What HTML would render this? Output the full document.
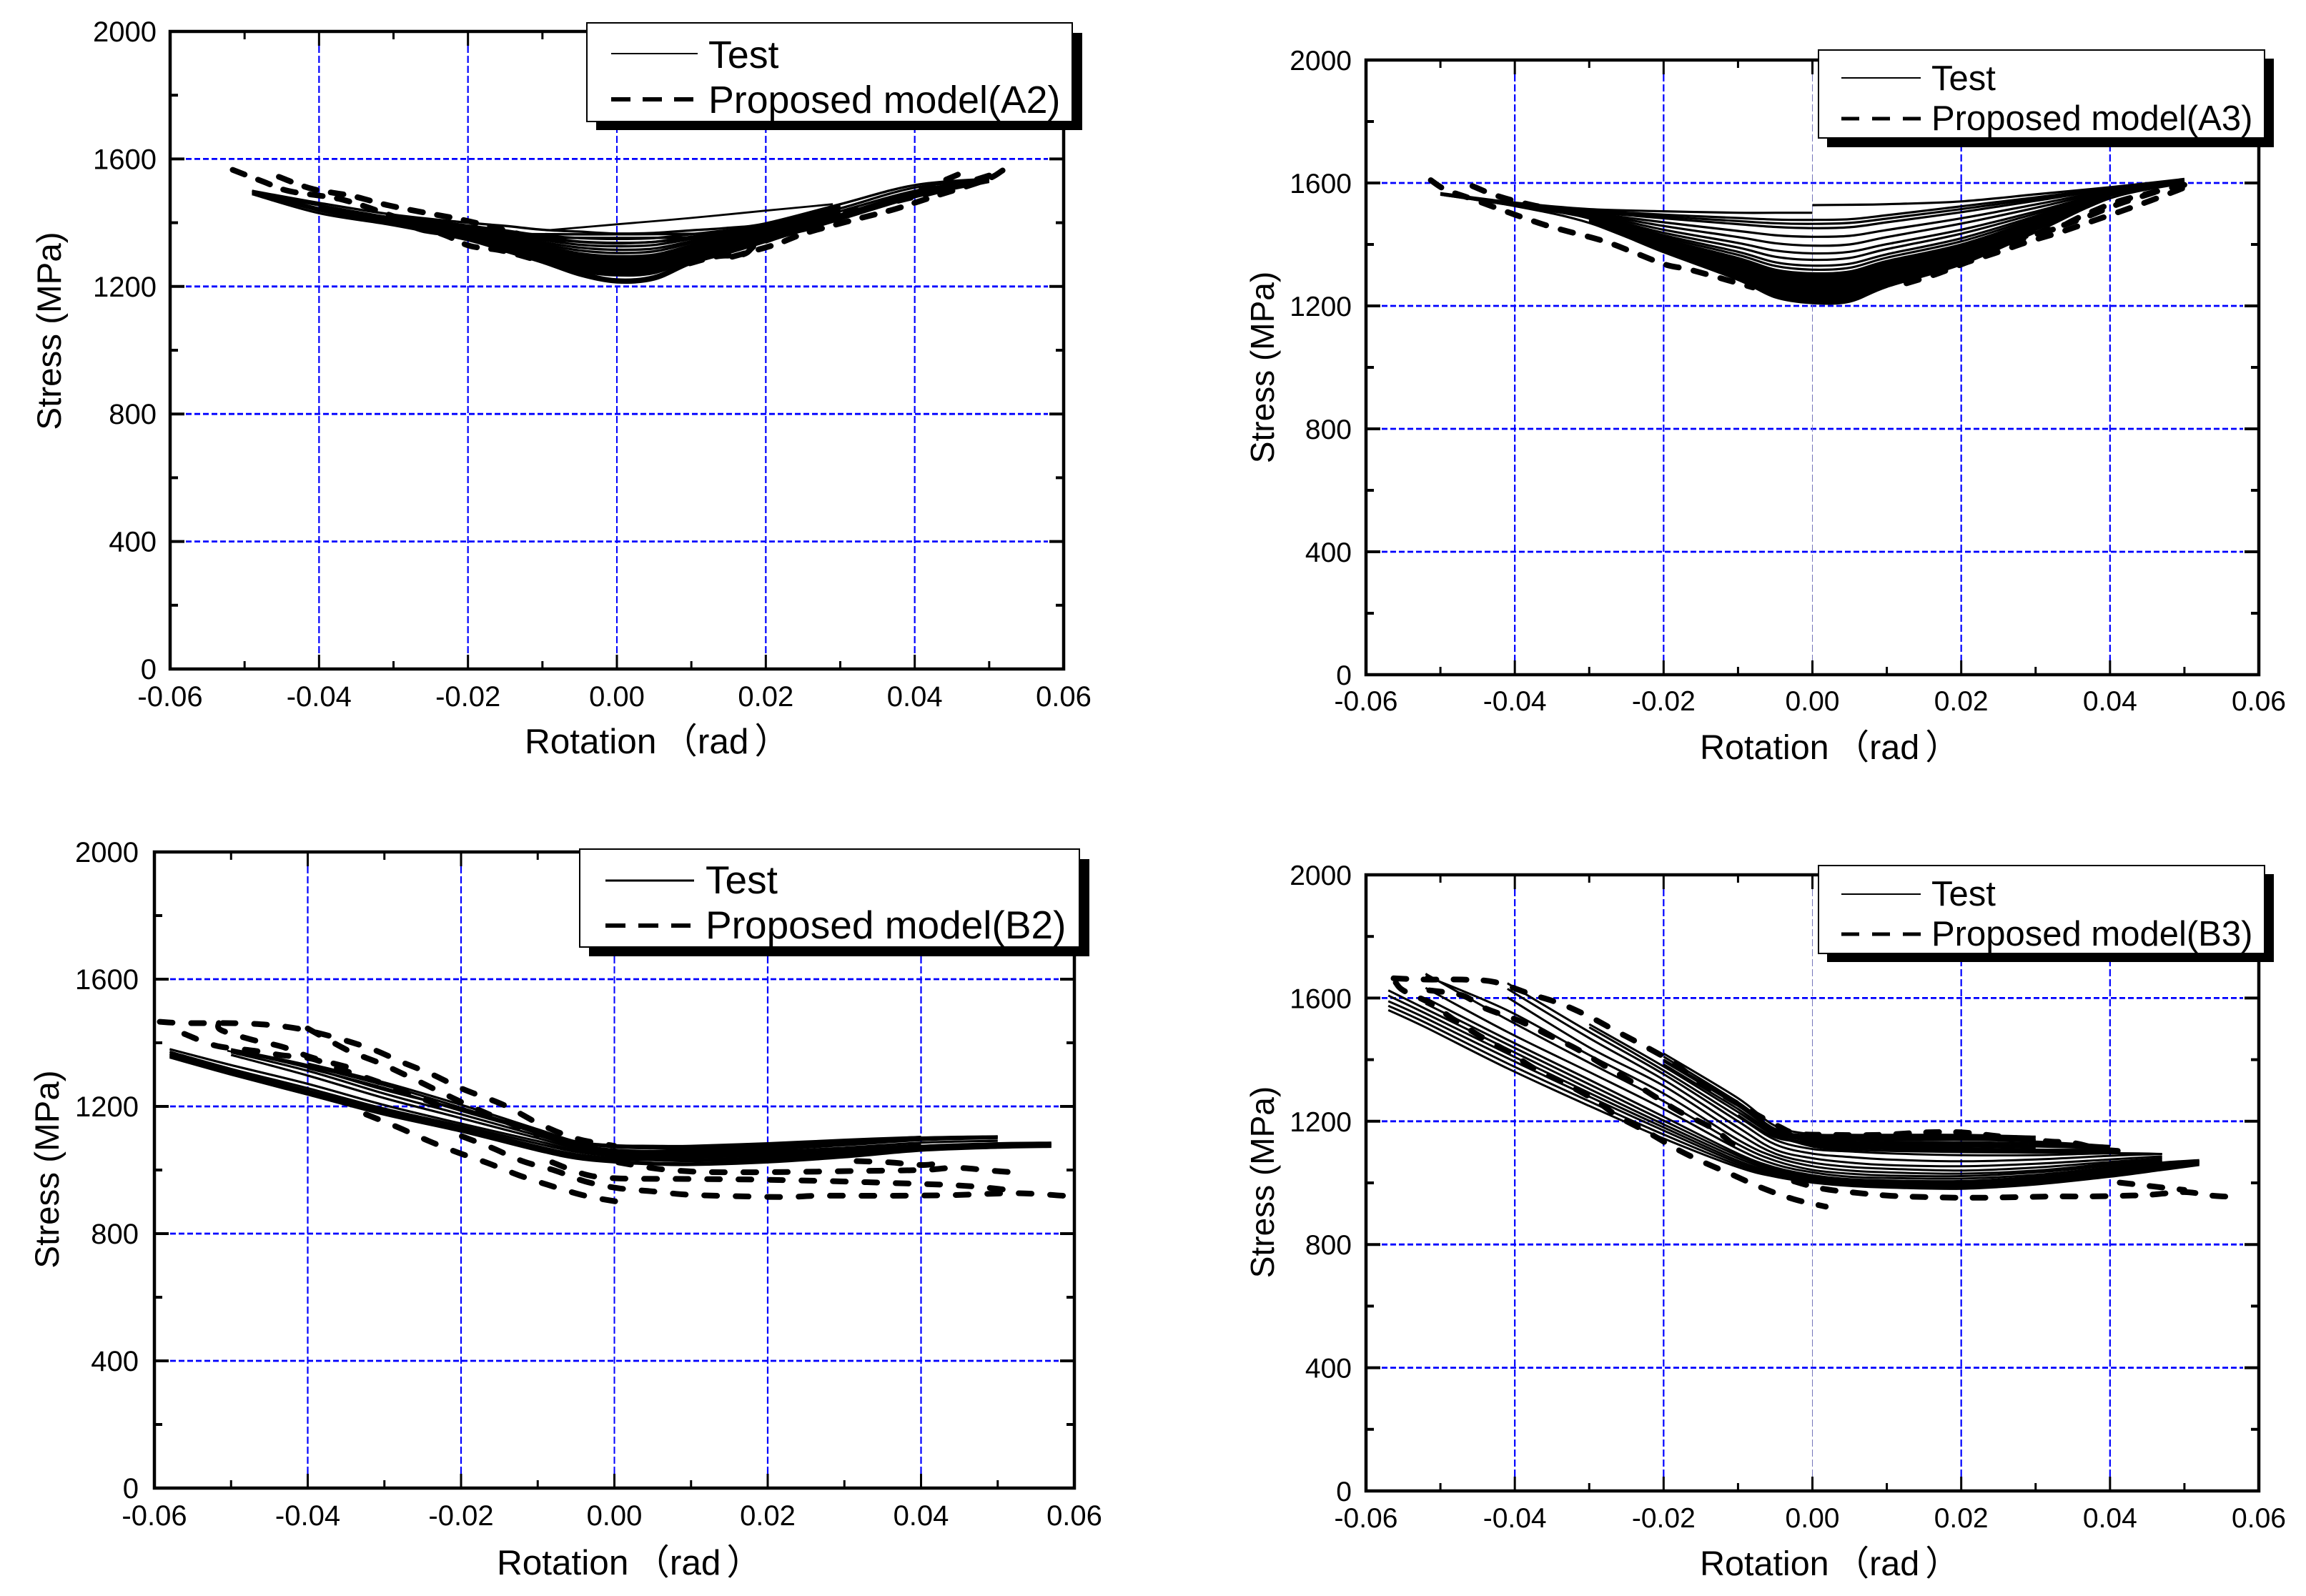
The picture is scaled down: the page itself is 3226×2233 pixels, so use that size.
<!DOCTYPE html>
<html lang="en">
<head>
<meta charset="utf-8">
<title>Stress versus rotation: test and proposed model</title>
<style>
html,body{margin:0;padding:0;background:#fff;width:3226px;height:2233px;overflow:hidden}
svg{display:block}
text{font-family:"Liberation Sans","Noto Sans CJK SC",sans-serif;fill:#000}
</style>
</head>
<body>
<svg xmlns="http://www.w3.org/2000/svg" width="3226" height="2233" viewBox="0 0 3226 2233">
<rect width="3226" height="2233" fill="#fff"/>

<g>
  <g id="plot-a2"></g>
  <text x="734" y="1054" font-size="49.5">Rotation<tspan dx="8">（rad</tspan><tspan dx="8">）</tspan></text>
  <text transform="translate(85,463) rotate(-90)" font-size="47.5" text-anchor="middle">Stress (MPa)</text>
  <g>
    <rect x="834" y="46" width="680" height="136" fill="#000"/>
    <rect x="821" y="32" width="679" height="138" fill="#fff" stroke="#000" stroke-width="2"/>
    <line x1="855" y1="75" x2="976" y2="75" stroke="#000" stroke-width="2"/>
    <text x="991" y="95" font-size="53.7">Test</text>
    <line x1="855" y1="139" x2="970" y2="139" stroke="#000" stroke-width="6" stroke-dasharray="27 17"/>
    <text x="991" y="158" font-size="53.7">Proposed model(A2)</text>
  </g>
</g>

<g>
  <g id="plot-a3"></g>
  <text x="2378" y="1062" font-size="48.5">Rotation<tspan dx="8">（rad</tspan><tspan dx="8">）</tspan></text>
  <text transform="translate(1782,514) rotate(-90)" font-size="46" text-anchor="middle">Stress (MPa)</text>
  <g>
    <rect x="2556" y="82" width="625" height="124" fill="#000"/>
    <rect x="2544" y="70" width="624" height="123" fill="#fff" stroke="#000" stroke-width="2"/>
    <line x1="2576" y1="109" x2="2687" y2="109" stroke="#000" stroke-width="2"/>
    <text x="2702" y="126" font-size="49">Test</text>
    <line x1="2576" y1="166" x2="2687" y2="166" stroke="#000" stroke-width="5" stroke-dasharray="25 18"/>
    <text x="2702" y="182" font-size="49">Proposed model(A3)</text>
  </g>
</g>

<g>
  <g id="plot-b2"></g>
  <text x="695" y="2203" font-size="49.5">Rotation<tspan dx="8">（rad</tspan><tspan dx="8">）</tspan></text>
  <text transform="translate(82,1636) rotate(-90)" font-size="47.5" text-anchor="middle">Stress (MPa)</text>
  <g>
    <rect x="824" y="1202" width="700" height="136" fill="#000"/>
    <rect x="811" y="1188" width="699" height="137" fill="#fff" stroke="#000" stroke-width="2"/>
    <line x1="847" y1="1232" x2="971" y2="1232" stroke="#000" stroke-width="3"/>
    <text x="987" y="1250" font-size="55">Test</text>
    <line x1="847" y1="1295" x2="966" y2="1295" stroke="#000" stroke-width="6" stroke-dasharray="28 18"/>
    <text x="987" y="1313" font-size="55">Proposed model(B2)</text>
  </g>
</g>

<g>
  <g id="plot-b3"></g>
  <text x="2378" y="2204" font-size="48.5">Rotation<tspan dx="8">（rad</tspan><tspan dx="8">）</tspan></text>
  <text transform="translate(1782,1654) rotate(-90)" font-size="46" text-anchor="middle">Stress (MPa)</text>
  <g>
    <rect x="2556" y="1223" width="625" height="123" fill="#000"/>
    <rect x="2544" y="1211" width="624" height="123" fill="#fff" stroke="#000" stroke-width="2"/>
    <line x1="2576" y1="1251" x2="2687" y2="1251" stroke="#000" stroke-width="2"/>
    <text x="2702" y="1267" font-size="49">Test</text>
    <line x1="2576" y1="1307" x2="2687" y2="1307" stroke="#000" stroke-width="5" stroke-dasharray="25 18"/>
    <text x="2702" y="1323" font-size="49">Proposed model(B3)</text>
  </g>
</g>
</svg>

<script>
const _ = null;

/* shared axis values */
const xMajorTicks = [-0.06,-0.04,-0.02,0,0.02,0.04,0.06];
const xMinorTicks = [-0.05,-0.03,-0.01,0.01,0.03,0.05];
const xTickLabels = ['-0.06','-0.04','-0.02','0.00','0.02','0.04','0.06'];
const yMajorTicks = [0,400,800,1200,1600,2000];
const yMinorTicks = [200,600,1000,1400,1800];
const yTickLabels = ['0','400','800','1200','1600','2000'];

/* A2: rotation grid in milliradians, stress rows in MPa */
const a2Rotation = [-49,-40,-30,-20,-15,-10,-5,0,5,10,15,20,30,40,50];
const a2Test = [
[1490,1430,1392,1345,1310,1275,1235,1213,1222,1272,1305,1340,1410,1480,1528],
[1495,1438,1396,1350,1316,1280,1240,1218,1228,1278,1312,1346,1416,1486,1530],
[1500,1445,1400,1352,1320,1285,1245,1222,1232,1282,1318,1352,1422,1490,1532],
[1495,1455,1415,1385,1370,1350,1340,1335,1340,1350,1362,1385,1445,1510,1535],
[1500,1462,1425,1400,1390,1378,1372,1366,1368,1376,1384,1398,1458,1518,1538],
[_,1450,1408,1368,_,_,_,_,_,_,_,1372,1436,1500,1536],
[_,1440,1402,1358,_,_,_,_,_,_,_,1360,1426,1495,1534],
[_,_,1396,1350,1316,1282,1248,1235,1242,1285,1318,1350,1416],
[_,_,1396,1352,1319,1286,1253,1240,1247,1288,1321,1352,1418],
[_,_,1398,1355,1322,1290,1258,1245,1252,1292,1324,1355,1420],
[_,_,1399,1356,1325,1294,1263,1250,1257,1296,1327,1358,1422],
[_,_,1400,1358,1328,1298,1268,1255,1262,1300,1330,1360,1424],
[_,_,1402,1360,1331,1302,1273,1260,1267,1304,1333,1362,1426],
[_,_,1403,1362,1334,1306,1278,1265,1272,1308,1336,1364,1428],
[_,_,1404,1364,1337,1310,1283,1270,1277,1312,1339,1366,1430],
[_,_,1405,1366,1340,1314,1288,1275,1282,1316,1342,1368,1432],
[_,_,1406,1368,1342,1317,1292,1280,1286,1319,1345,1370,1434],
[_,_,1408,1370,1345,1320,1296,1285,1291,1322,1348,1372,1436],
[_,_,1409,1372,1347,1324,1300,1290,1295,1326,1351,1374,1438],
[_,_,1410,1374,1350,1327,1304,1295,1300,1329,1354,1376,1440],
[_,_,1412,1378,1355,1333,1313,1305,1310,1336,1359,1380,1444],
[_,_,1415,1381,1360,1339,1322,1315,1319,1342,1364,1383,1448],
[_,_,1418,1385,1366,1346,1331,1326,1330,1349,1368,1386,1450],
[_,_,1420,1388,1371,1353,1341,1337,1340,1356,1372,1389,1452],
[_,_,1422,1391,1376,1360,1352,1349,1352,1364,1377,1392,1454]
];
const a2TestLinks = [
[[-9,1377],[0,1395],[10,1415],[20,1438],[29,1458]]
];
const a2Model = [
[[-51.6,1566],[-47.5,1529],[-44,1499],[-37,1473],[-30,1420],[-23,1360],[-19.7,1327],[-15.4,1312],[-10,1278]],
[[-45.4,1544],[-40.9,1506],[-35.6,1484],[-30.6,1454],[-25,1428],[-21.5,1413],[-17.3,1390],[-10,1345]],
[[51.8,1564],[49.4,1533],[42.3,1480],[37.4,1443],[32.5,1413],[25.4,1368],[21.2,1331],[15,1290]],
[[45.8,1551],[40.9,1503],[36.7,1465],[28.9,1413],[25.4,1387],[19.1,1335],[17,1301],[13.1,1293],[8,1260]],
[[50,1548],[44,1505],[38,1470],[30,1425],[24,1385],[18,1345],[12,1305]]
];

/* A3 */
const a3Rotation = [-50,-40,-30,-20,-10,-5,0,5,10,20,30,40,50];
const a3Test = [
[1567,1536,1515,1508,1503,1503,1503,_,_,_,_,_,_],
[_,_,_,_,_,_,1528,1529,1531,1540,1563,1586,1613],
[1566,1535,1511,1497,1486,1481,1480,1482,1495,1524,1553,1583,1612],
[1566,1534,1509,1491,1476,1469,1467,1470,1484,1515,1548,1582,1611],
[1566,1534,1507,1485,1466,1457,1453,1456,1472,1505,1542,1580,1611],
[1566,1533,1503,1472,1444,1430,1425,1428,1447,1485,1530,1576,1610],
[1565,1532,1502,1460,1424,1404,1396,1400,1424,1468,1519,1573,1608],
[1565,1531,1500,1448,1405,1380,1371,1376,1401,1448,1507,1570,1607],
[1564,1530,1496,1438,1390,1360,1350,1356,1385,1435,1500,1568,1606],
[1564,1529,1494,1430,1376,1342,1331,1337,1368,1420,1492,1566,1605],
[_,_,1492,1424,1366,1330,1318,1324,1357,1410,1486,1564,_],
[1563,1528,1490,1418,1356,1318,1306,1312,1346,1400,1480,1562,1604],
[_,_,1488,1415,1352,1312,1300,1306,1341,1395,1477,1561,_],
[1563,1527,1487,1412,1347,1307,1295,1300,1336,1390,1474,1561,1603],
[_,_,1486,1410,1344,1302,1290,1295,1330,1385,1471,1559,_],
[1562,1526,1485,1408,1340,1298,1285,1290,1325,1380,1469,1558,1602],
[_,_,1484,1406,1336,1293,1280,1285,1320,1376,1466,1557,_],
[_,_,1484,1405,1333,1288,1275,1280,1316,1372,1464,1556,_],
[_,_,1483,1402,1329,1283,1270,1275,1311,1368,1462,1555,_],
[_,_,1482,1400,1326,1278,1265,1270,1307,1364,1460,1555,_],
[_,_,1481,1398,1322,1273,1260,1265,1302,1360,1458,1554,_],
[_,_,1480,1396,1318,1268,1255,1260,1298,1356,1456,1554,_],
[_,_,1479,1393,1314,1263,1250,1255,1294,1353,1454,1553,_],
[_,_,1478,1390,1310,1258,1245,1250,1290,1350,1452,1553,_],
[_,_,1477,1388,1306,1253,1240,1244,1285,1347,1450,1552,_],
[_,_,1476,1386,1303,1248,1235,1238,1280,1345,1448,1552,_],
[_,_,1474,1384,1299,1244,1230,1233,1276,1342,1446,_,_],
[_,_,1473,1382,1296,1240,1225,1228,1272,1340,1445,_,_],
[_,_,1472,1380,1293,1236,1220,1224,1269,1338,1443,_,_],
[_,_,1472,1378,1290,1233,1216,1220,1266,1337,1442,_,_],
[1562,1525,1470,1375,1285,1228,1209,1214,1262,1335,1440,1550,1600]
];
const a3TestLinks = [];
const a3Model = [
[[-51.3,1609],[-49.3,1578],[-46,1550],[-40,1497],[-35.2,1458],[-28.2,1412],[-23.9,1373],[-19.7,1334],[-16,1315],[-8,1260]],
[[-45.7,1590],[-42.5,1559],[-38,1530],[-30,1490],[-22,1420],[-14,1340]],
[[49.7,1582],[45.5,1543],[41.6,1509],[37.4,1474],[33.2,1439],[28.9,1408],[24.7,1373],[20.8,1342],[16.6,1303],[11.3,1264]],
[[50,1594],[45,1565],[40.6,1536],[36.3,1493],[32.5,1450],[27.9,1423],[23.3,1396],[19.8,1350],[14,1310]],
[[46,1570],[41,1530],[36,1482],[30,1432],[25,1388],[20,1348]]
];

/* B2 */
const b2Rotation = [-58,-50,-40,-30,-20,-10,-5,0,5,10,20,30,40,50,57];
const b2Test = [
[1354,1300,1237,1174,1121,1061,1036,1024,1018,1016,1024,1040,1061,1070,1073],
[1358,1304,1241,1178,1125,1065,1040,1028,1023,1021,1028,1044,1064,1073,1076],
[1362,1308,1246,1183,1130,1070,1046,1034,1031,1028,1034,1049,1068,1078,1080],
[1366,1312,1250,1187,1134,1075,1050,1038,1036,1034,1040,1054,1072,1080,1082],
[1372,1318,1257,1193,1139,1083,1057,1044,1042,1040,1046,1058,1076,1084,1086],
[1380,1330,1271,1204,1146,1091,1062,1050,1046,1045,1052,1064,1080,_,_],
[_,1362,1297,1226,1163,1100,1068,1052,1050,1050,1058,1070,1086,1092,_],
[_,1370,1312,1240,1175,1108,1074,1058,1056,1056,1064,1078,1094,1100,_],
[_,1376,1322,1252,1190,1115,1080,1064,1060,1062,1070,1084,1098,1104,_],
[_,_,1320,1258,1186,1118,1082,1076,1072,1072,1082,1092,1104,_,_],
[_,1380,1330,1268,1196,1122,1086,1072,1068,1068,1076,1090,1102,1106,_],
[_,_,1335,1275,1205,1128,1090,1078,1076,1076,1084,1095,1104,_,_]
];
const b2TestLinks = [
[[-50.5,1375],[-41.9,1335],[-35.6,1301],[-26.2,1241],[-20,1196],[-14.4,1151],[-6.5,1091],[0,1076]]
];
const b2Model = [
[[-59.3,1466],[-56,1462],[-47.3,1460],[-40.3,1440],[-32.4,1387],[-27.7,1339],[-23.8,1301],[-19.9,1256],[-14.4,1204],[-9.7,1144],[-5,1099],[0,1076]],
[[-51.6,1462],[-51.3,1440],[-47.3,1410],[-43.4,1388],[-39.5,1354],[-35,1325]],
[[-40,1445],[-37.9,1417],[-34.4,1372],[-30.5,1335],[-26.5,1290],[-23,1249],[-19.1,1204],[-15.1,1162],[-10,1110]],
[[-56.1,1428],[-52,1391],[-47,1375],[-43.4,1361],[-39.5,1350],[-35.6,1316],[-30,1270],[-22,1195]],
[[-32.4,1175],[-28.1,1133],[-24.2,1091],[-20.3,1054],[-16.3,1020],[-12.4,983],[-8.1,949],[-3.8,919],[0.5,900]],
[[-19.9,1106],[-15.9,1069],[-12,1028],[-7.7,998],[-3.8,964],[0.5,943],[4.9,933],[9.2,923],[13.5,919],[22.1,915],[26.5,919],[35.1,919],[43.7,921],[52.4,927],[58.6,919]],
[[-8.1,1024],[-3.8,986],[0.3,974],[9.2,972],[17.8,970],[26.5,966],[35.1,960],[43.7,953],[48.4,945],[52.4,934]],
[[0.5,1024],[5.3,1005],[9.6,996],[14.3,993],[22.9,994],[31.6,997],[40.2,1000],[44.5,1007],[49.2,998],[53.5,990]],
[[31.6,1028],[35.9,1024],[40.6,1016],[43.7,1031]]
];

/* B3 */
const b3Rotation = [-57,-52,-41,-30,-20,-10,-5,0,5,10,20,30,40,47,52];
const b3Test = [
[1561,1505,1372,1250,1144,1051,1020,1001,990,985,981,995,1020,1042,1058],
[1575,1520,1388,1265,1157,1058,1025,1005,994,989,985,1000,1025,1046,1061],
[1590,1535,1405,1280,1170,1065,1030,1010,997,992,990,1004,1030,1050,1064],
[1608,1550,1420,1292,1180,1072,1035,1014,1001,996,994,1008,1034,1053,1066],
[1625,1565,1435,1305,1190,1080,1040,1018,1005,1000,998,1012,1038,1056,1068],
[_,1582,1450,1320,1202,1088,1045,1022,1009,1004,1002,1016,1041,1058,1070],
[_,1600,1465,1335,1215,1095,1050,1025,1012,1008,1006,1020,1044,1060,1072],
[_,1633,1490,1360,1240,1110,1060,1034,1020,1016,1014,1026,1050,1066,1074],
[_,1679,1530,1390,1265,1125,1072,1042,1030,1024,1022,1034,1056,1070,_],
[_,1672,1560,1415,1290,1140,1084,1054,1040,1034,1030,1040,1062,1074,_],
[_,_,1602,1440,1315,1160,1095,1066,1052,1046,1040,1050,1068,1080,_],
[_,_,1630,1470,1335,1180,1108,1080,1066,1058,1054,1062,1076,1086,_],
[_,_,1648,1490,1353,1200,1125,1095,1084,1076,1070,1076,1088,1094,_],
[_,_,_,1505,1365,1215,1140,1110,1102,1096,1090,1090,1096,1094,_],
[_,_,_,1515,1378,1230,1155,1125,1118,1114,1112,1108,1108,_,_],
[_,_,_,_,1385,1240,1162,1136,1128,1126,1126,1122,1112,_,_],
[_,_,_,_,1395,1250,1168,1140,1134,1132,1132,1128,1118,_,_],
[_,_,_,_,1400,1256,1170,1145,1140,1138,1140,1134,1120,_,_],
[_,_,_,_,1410,1262,1175,1150,1146,1146,1148,1140,_,_,_],
[_,_,_,_,1420,1275,1185,1158,1156,1156,1156,1150,_,_,_],
[_,_,_,_,_,1240,1160,1118,1108,1104,1100,1098,1100,_,_],
[_,_,_,_,_,1230,1154,1122,1114,1110,1106,1103,1104,_,_],
[_,_,_,_,_,1220,1148,1132,1124,1122,1122,1118,1112,_,_],
[_,_,_,_,_,_,1150,1128,1120,1118,1118,1114,_,_,_],
[_,_,_,_,_,_,1160,1148,1143,1142,1144,1138,_,_,_],
[_,_,_,_,_,_,1164,1153,1150,1150,1152,1146,_,_,_]
];
const b3TestLinks = [];
const b3Model = [
[[-56.3,1664],[-51.9,1660],[-47.1,1660],[-42.7,1652],[-37.9,1613],[-33.9,1582],[-30,1540],[-26.4,1493],[-22.8,1447],[-18.8,1392],[-15.3,1330],[-11.7,1280],[-8.1,1230],[-4.5,1183],[-2.1,1160],[2.6,1156],[9,1156],[15.3,1164],[20,1164],[24.8,1152],[31.2,1136],[35.2,1129],[38.8,1109],[42.4,1102]],
[[-51.5,1625],[-47.1,1609],[-44,1567],[-39.6,1528],[-35.6,1481],[-31.7,1435],[-28,1381],[-24.4,1330],[-20.9,1276],[-17.7,1229],[-13.3,1175],[-10.1,1113]],
[[-56,1650],[-55,1625],[-51.5,1585],[-48.3,1532],[-44.7,1477],[-40.7,1423],[-37.2,1369],[-33.2,1322],[-29.2,1268],[-26,1214],[-22.1,1164],[-18.5,1113],[-14.9,1070],[-10.9,1028],[-6.9,985],[-2.5,947],[1.8,923]],
[[-2.5,1005],[1.4,981],[6.2,967],[10.6,958],[15,954],[19.3,952],[23.3,952],[28.1,954],[32.5,956],[36.9,956],[41.3,958],[45.2,961],[50,970],[54,958],[57.6,954]],
[[41.3,1001],[45.6,989],[50,977]]
];

const panels = [
  {id:'plot-a2',left:238,right:1488,top:44,bottom:936,labelRight:219,xLabelY:988,rotation:a2Rotation,test:a2Test,links:a2TestLinks,model:a2Model,testWidth:3.4,dash:'18 20',dashWidth:8,centerWidth:2,tickSize:40},
  {id:'plot-a3',left:1911,right:3160,top:84,bottom:944,labelRight:1891,xLabelY:994,rotation:a3Rotation,test:a3Test,links:a3TestLinks,model:a3Model,testWidth:3.2,dash:'18 21',dashWidth:8,centerWidth:1,tickSize:39},
  {id:'plot-b2',left:216,right:1503,top:1192,bottom:2082,labelRight:194,xLabelY:2134,rotation:b2Rotation,test:b2Test,links:b2TestLinks,model:b2Model,testWidth:3.2,dash:'18 26',dashWidth:8,centerWidth:2,tickSize:40},
  {id:'plot-b3',left:1911,right:3160,top:1224,bottom:2086,labelRight:1891,xLabelY:2137,rotation:b3Rotation,test:b3Test,links:b3TestLinks,model:b3Model,testWidth:3,dash:'18 24',dashWidth:8,centerWidth:1,tickSize:39}
];

const NS = 'http://www.w3.org/2000/svg';
function make(tag, parent, attrs) {
  const el = document.createElementNS(NS, tag);
  for (const k in attrs) el.setAttribute(k, attrs[k]);
  parent.appendChild(el);
  return el;
}

function smoothPath(pts) {
  let d = 'M' + pts[0][0].toFixed(1) + ' ' + pts[0][1].toFixed(1);
  for (let i = 0; i < pts.length - 1; i++) {
    const p0 = pts[Math.max(i - 1, 0)], p1 = pts[i], p2 = pts[i + 1], p3 = pts[Math.min(i + 2, pts.length - 1)];
    const c1x = p1[0] + (p2[0] - p0[0]) / 6, c1y = p1[1] + (p2[1] - p0[1]) / 6;
    const c2x = p2[0] - (p3[0] - p1[0]) / 6, c2y = p2[1] - (p3[1] - p1[1]) / 6;
    d += 'C' + c1x.toFixed(1) + ' ' + c1y.toFixed(1) + ' ' + c2x.toFixed(1) + ' ' + c2y.toFixed(1) + ' ' + p2[0].toFixed(1) + ' ' + p2[1].toFixed(1);
  }
  return d;
}

panels.forEach(function (p) {
  const root = document.getElementById(p.id);
  const sx = function (rad) { return p.left + (rad + 0.06) / 0.12 * (p.right - p.left); };
  const sy = function (mpa) { return p.bottom - mpa / 2000 * (p.bottom - p.top); };

  /* grid */
  yMajorTicks.slice(1, -1).forEach(function (v) {
    const el = make('line', root, {x1: p.left + 22, x2: p.right - 22, y1: sy(v), y2: sy(v), stroke: '#0000ff', 'stroke-width': 2.8, 'stroke-dasharray': '8 4'});
    
    
  });
  xMajorTicks.slice(1, -1).forEach(function (v) {
    const el = make('line', root, {x1: sx(v), x2: sx(v), y1: p.top + 20, y2: p.bottom - 20, stroke: v === 0 && p.centerWidth === 1 ? '#7777bb' : '#0000ff', 'stroke-width': v === 0 ? p.centerWidth : 2.2, 'stroke-dasharray': '10 4'});
    
    
  });

  /* test curves */
  p.test.forEach(function (row) {
    const pts = [];
    row.forEach(function (v, i) { if (v !== null) pts.push([sx(p.rotation[i] / 1000), sy(v)]); });
    const el = make('path', root, {d: smoothPath(pts), fill: 'none', stroke: '#000', 'stroke-width': p.testWidth, 'stroke-linejoin': 'round'});
    
    
  });
  p.links.forEach(function (pairs) {
    const pts = pairs.map(function (q) { return [sx(q[0] / 1000), sy(q[1])]; });
    const el = make('path', root, {d: smoothPath(pts), fill: 'none', stroke: '#000', 'stroke-width': p.testWidth - 0.6});
    
    
  });

  /* model curves */
  p.model.forEach(function (pairs) {
    const pts = pairs.map(function (q) { return [sx(q[0] / 1000), sy(q[1])]; });
    const el = make('path', root, {d: smoothPath(pts), fill: 'none', stroke: '#000', 'stroke-width': p.dashWidth, 'stroke-dasharray': p.dash, 'stroke-linecap': 'round'});
    
    
  });

  /* ticks */
  function tick(x1, y1, x2, y2, w) {
    const el = make('line', root, {x1: x1, y1: y1, x2: x2, y2: y2, stroke: '#000', 'stroke-width': w});
    
    
  }
  xMajorTicks.forEach(function (v) {
    tick(sx(v), p.bottom, sx(v), p.bottom - 20, 3);
    tick(sx(v), p.top, sx(v), p.top + 20, 3);
  });
  xMinorTicks.forEach(function (v) {
    tick(sx(v), p.bottom, sx(v), p.bottom - 11, 3);
    tick(sx(v), p.top, sx(v), p.top + 11, 3);
  });
  yMajorTicks.forEach(function (v) {
    tick(p.left, sy(v), p.left + 20, sy(v), 4);
    tick(p.right, sy(v), p.right - 20, sy(v), 4);
  });
  yMinorTicks.forEach(function (v) {
    tick(p.left, sy(v), p.left + 11, sy(v), 4);
    tick(p.right, sy(v), p.right - 11, sy(v), 4);
  });

  /* frame */
  const frame = make('rect', root, {x: p.left, y: p.top, width: p.right - p.left, height: p.bottom - p.top, fill: 'none', stroke: '#000', 'stroke-width': 4.5});
  
  

  /* tick labels */
  xMajorTicks.forEach(function (v, i) {
    const el = make('text', root, {x: sx(v), y: p.xLabelY, 'font-size': p.tickSize, 'text-anchor': 'middle'});
    el.textContent = xTickLabels[i];
    
    
  });
  yMajorTicks.forEach(function (v, i) {
    const el = make('text', root, {x: p.labelRight, y: sy(v) + 14, 'font-size': p.tickSize, 'text-anchor': 'end'});
    el.textContent = yTickLabels[i];
    
    
  });
});
</script>
</body>
</html>
